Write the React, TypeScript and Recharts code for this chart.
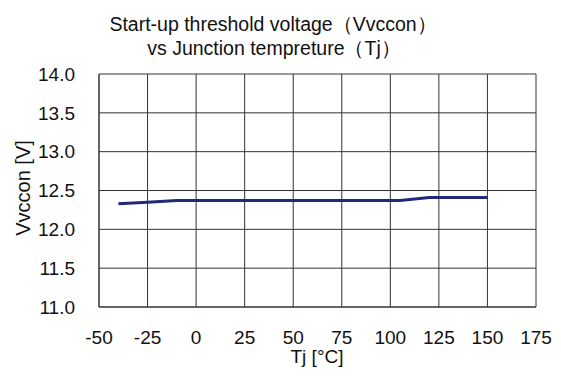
import React from 'react';
import { LineChart, Line, XAxis, YAxis, CartesianGrid } from 'recharts';

const tjValues = [-40, -25, -10, 0, 25, 50, 75, 100, 105, 120, 125, 150];
const vvcconValues = [12.33, 12.35, 12.37, 12.37, 12.37, 12.37, 12.37, 12.37, 12.37, 12.41, 12.41, 12.41];
const xTicks = [-50, -25, 0, 25, 50, 75, 100, 125, 150, 175];
const yTicks = [11.0, 11.5, 12.0, 12.5, 13.0, 13.5, 14.0];
const titleLines = ['Start-up threshold voltage（Vvccon）', 'vs Junction tempreture（Tj）'];
const xLabel = 'Tj [°C]';
const yLabel = 'Vvccon [V]';

const data = tjValues.map((t, i) => ({ tj: t, v: vvcconValues[i] }));

const FONT = '"Liberation Sans", Arial, sans-serif';

export default function App() {
  return (
    <div style={{ position: 'absolute', left: 0, top: 0, width: 561, height: 379, background: '#fff', fontFamily: FONT }}>
      <LineChart width={561} height={379} data={data} margin={{ top: 74, right: 25, bottom: 42, left: 0 }}>
        <CartesianGrid stroke="#333" strokeWidth={1} vertical horizontal />
        <XAxis
          dataKey="tj"
          type="number"
          domain={[-50, 175]}
          ticks={xTicks}
          interval={0}
          tickLine={false}
          tickSize={0}
          tickMargin={24}
          height={30}
          axisLine={{ stroke: '#333' }}
          tick={{ fill: '#111', fontSize: 19, fontFamily: FONT }}
        />
        <YAxis
          type="number"
          domain={[11, 14]}
          ticks={yTicks}
          interval={0}
          width={99}
          tickLine={false}
          tickSize={0}
          tickMargin={24}
          axisLine={{ stroke: '#333' }}
          tickFormatter={(v: number) => v.toFixed(1)}
          tick={{ fill: '#111', fontSize: 19, fontFamily: FONT }}
        />
        <Line
          type="linear"
          dataKey="v"
          stroke="#1f2a78"
          strokeWidth={3}
          dot={false}
          isAnimationActive={false}
        />
      </LineChart>
      <svg width={561} height={379} style={{ position: 'absolute', left: 0, top: 0, pointerEvents: 'none' }}>
        <text x={273} y={31} textAnchor="middle" fontSize={19.5} fontFamily={FONT} fill="#111">{titleLines[0]}</text>
        <text x={274} y={55} textAnchor="middle" fontSize={19.5} fontFamily={FONT} fill="#111">{titleLines[1]}</text>
        <text x={317} y={363} textAnchor="middle" fontSize={19} fontFamily={FONT} fill="#111">{xLabel}</text>
        <text x={30} y={188} textAnchor="middle" fontSize={20} fontFamily={FONT} fill="#111" transform="rotate(-90 30 188)">{yLabel}</text>
      </svg>
    </div>
  );
}
